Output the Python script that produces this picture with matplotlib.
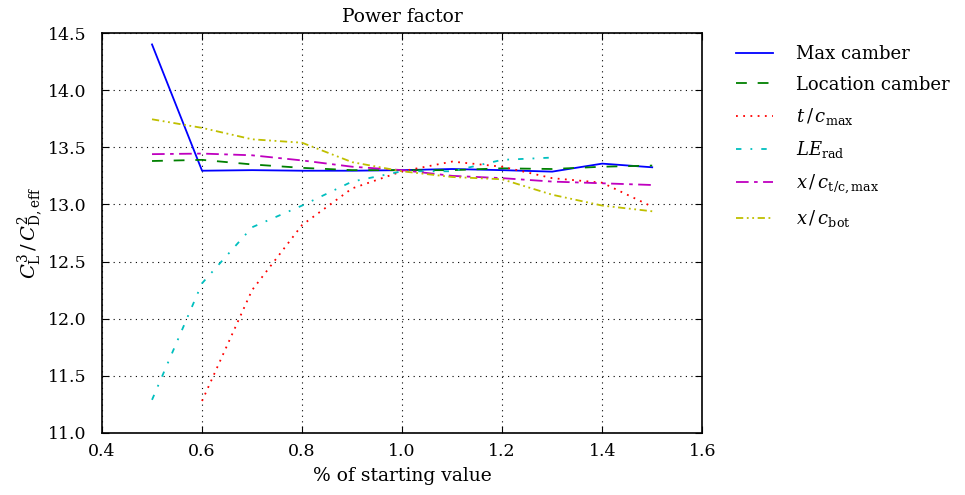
import numpy as np
import matplotlib
matplotlib.use("Agg")
import matplotlib.pyplot as plt

plt.rcParams['font.family'] = ['DejaVu Serif']
plt.rcParams['mathtext.fontset'] = 'dejavuserif'
plt.rcParams['font.size'] = 12

# data
x_full = [0.5, 0.6, 0.7, 0.8, 0.9, 1.0, 1.1, 1.2, 1.3, 1.4, 1.5]
max_camber = [14.40, 13.295, 13.30, 13.295, 13.295, 13.30, 13.31, 13.30, 13.287, 13.357, 13.325]
loc_camber = [13.38, 13.39, 13.35, 13.32, 13.30, 13.30, 13.30, 13.316, 13.31, 13.33, 13.34]
x_tc = [0.6, 0.7, 0.8, 0.9, 1.0, 1.1, 1.2, 1.3, 1.4, 1.5]
tc_max = [11.28, 12.25, 12.82, 13.14, 13.29, 13.375, 13.33, 13.23, 13.19, 12.98]
x_le = [0.5, 0.6, 0.7, 0.8, 0.9, 1.0, 1.1, 1.2, 1.3]
le_rad = [11.29, 12.31, 12.80, 12.99, 13.20, 13.29, 13.29, 13.39, 13.41]
xc_tcmax = [13.44, 13.445, 13.43, 13.385, 13.33, 13.30, 13.25, 13.23, 13.20, 13.185, 13.17]
xc_bot = [13.745, 13.67, 13.57, 13.54, 13.37, 13.29, 13.24, 13.22, 13.085, 12.99, 12.94]

fig = plt.figure(figsize=(9.65, 4.95), dpi=100)
ax = fig.add_axes([0.1057, 0.1253, 0.622, 0.808])

ax.plot(x_full, max_camber, color='b', ls='-', lw=1.3, label='Max camber')
ax.plot(x_full, loc_camber, color='g', ls=(0, (6, 6)), lw=1.3, label='Location camber')
ax.plot(x_tc, tc_max, color='r', ls=(0, (1, 3)), lw=1.3, label=r'$t\,/\,c_{\mathrm{max}}$')
ax.plot(x_le, le_rad, color='c', ls=(0, (3, 5, 1, 5)), lw=1.3, label=r'$LE_{\mathrm{rad}}$')
ax.plot(x_full, xc_tcmax, color='m', ls=(0, (7, 3, 2, 3)), lw=1.3,
        label=r'$x\,/\,c_{\mathrm{t/c,max}}$')
ax.plot(x_full, xc_bot, color='y', ls=(0, (4, 2, 1, 2, 1, 2)), lw=1.3,
        label=r'$x\,/\,c_{\mathrm{bot}}$')

ax.set_xlim(0.4, 1.6)
ax.set_ylim(11.0, 14.5)
ax.set_xticks(np.arange(0.4, 1.61, 0.2))
ax.set_yticks(np.arange(11.0, 14.51, 0.5))
ax.xaxis.set_major_formatter(plt.FormatStrFormatter('%.1f'))
ax.yaxis.set_major_formatter(plt.FormatStrFormatter('%.1f'))
ax.tick_params(direction='in', top=True, right=True, length=5, labelsize=12.5)
ax.tick_params(axis='y', pad=11)
ax.tick_params(axis='x', pad=7)
ax.grid(True, color='k', ls=(0, (1, 4)), lw=0.8)
for s in ax.spines.values():
    s.set_linewidth(1.2)

ax.set_title('Power factor', fontsize=13.5, pad=8)
ax.set_xlabel('% of starting value', fontsize=13.5, labelpad=5)
ax.set_ylabel(r'$C_{\mathrm{L}}^3\,/\,C_{\mathrm{D,eff}}^2$', fontsize=14, labelpad=2)

ax.legend(loc='upper left', bbox_to_anchor=(1.03, 1.01), frameon=False,
          fontsize=13, handlelength=2.0, handletextpad=1.3, labelspacing=0.68)

fig.savefig('out.png', dpi=100)
